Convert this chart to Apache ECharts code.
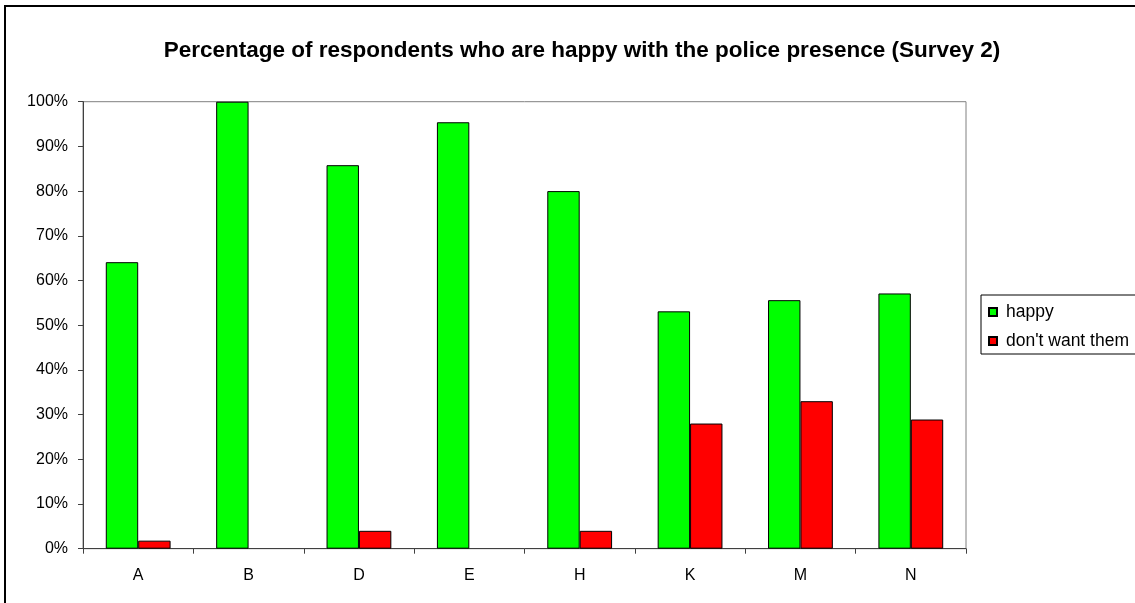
<!DOCTYPE html>
<html>
<head>
<meta charset="utf-8">
<script src="https://cdn.jsdelivr.net/npm/echarts@6/dist/echarts.min.js"></script>
<style>html,body{margin:0;padding:0;background:#fff}#c{width:1135px;height:603px}</style>
</head>
<body>
<div id="c"></div>
<script>
const categories = ['A', 'B', 'D', 'E', 'H', 'K', 'M', 'N'];
const happy = [64.1, 100, 85.8, 95.4, 80.0, 53.1, 55.6, 57.1];
const dontWant = [1.8, null, 4.0, null, 4.0, 28.0, 33.0, 28.9];
const seriesNames = ['happy', "don't want them"];
const titleText = 'Percentage of respondents who are happy with the police presence (Survey 2)';

const FONT = '"Liberation Sans", Arial, sans-serif';
const chart = echarts.init(document.getElementById('c'), null, {renderer: 'canvas'});
chart.setOption({
  animation: false,
  backgroundColor: '#fff',
  textStyle: {fontFamily: FONT},
  title: {
    text: titleText,
    left: 577, top: 34, textAlign: 'center',
    textStyle: {fontFamily: FONT, fontSize: 22.5, fontWeight: 'bold', color: '#000'}
  },
  graphic: [{
    type: 'rect', shape: {x: 5, y: 6, width: 1200, height: 700},
    style: {fill: 'none', stroke: '#000', lineWidth: 2}, silent: true
  }],
  legend: {
    orient: 'vertical', left: 981, top: 295,
    padding: [8, 40, 4, 7],
    borderColor: '#000', borderWidth: 1,
    icon: 'rect',
    itemWidth: 8, itemHeight: 8, itemGap: 11,
    textStyle: {fontFamily: FONT, fontSize: 17.5, color: '#000', padding: [0, 0, 0, 4]},
    data: seriesNames
  },
  grid: {
    left: 83, right: 169, top: 101.7, bottom: 54.3,
    show: true, borderColor: '#808080', borderWidth: 1, containLabel: false
  },
  xAxis: {
    type: 'category', data: categories, boundaryGap: true,
    axisLine: {lineStyle: {color: '#404040', width: 1}},
    axisTick: {show: true, length: 5, lineStyle: {color: '#404040'}},
    axisLabel: {fontFamily: FONT, fontSize: 16, color: '#000', margin: 19}
  },
  yAxis: {
    type: 'value', min: 0, max: 100, interval: 10,
    axisLine: {show: true, lineStyle: {color: '#404040', width: 1}},
    axisTick: {show: true, length: 5, lineStyle: {color: '#404040'}},
    splitLine: {show: false},
    axisLabel: {fontFamily: FONT, fontSize: 16, color: '#000', margin: 15, formatter: '{value}%'}
  },
  series: [
    {
      name: seriesNames[0], type: 'bar', data: happy,
      barGap: '0%', barCategoryGap: '41.3%',
      itemStyle: {color: '#00ff00', borderColor: '#000', borderWidth: 1}
    },
    {
      name: seriesNames[1], type: 'bar', data: dontWant,
      barGap: '0%', barCategoryGap: '41.3%',
      itemStyle: {color: '#ff0000', borderColor: '#000', borderWidth: 1}
    }
  ]
});
</script>
</body>
</html>
